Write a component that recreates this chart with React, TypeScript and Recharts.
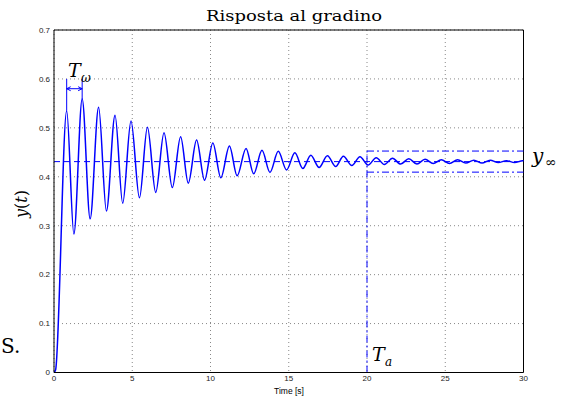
import { LineChart, Line, XAxis, YAxis, CartesianGrid, ReferenceLine } from "recharts";

// step response: start, then alternating peaks / troughs
const RESPONSE_T = [
  0, 0.1, 0.81, 1.27, 1.8, 2.31, 2.85, 3.35, 3.9, 4.39, 4.92, 5.46, 5.97, 6.5, 7.03, 7.56, 8.09,
  8.58, 9.11, 9.62, 10.15, 10.66, 11.21, 11.7, 12.27, 12.76, 13.29, 13.8, 14.33, 14.86, 15.39,
  15.9, 16.41, 16.94, 17.47, 18.0, 18.49, 19.03, 19.55, 20.07, 20.59, 21.11, 21.63, 22.15, 22.67,
  23.19, 23.71, 24.23, 24.75, 25.27, 25.79, 26.31, 26.83, 27.35, 27.87, 28.39, 28.91, 29.43,
  29.95, 30,
];
const RESPONSE_Y = [
  0, 0.005, 0.535, 0.283, 0.559, 0.314, 0.542, 0.33, 0.526, 0.346, 0.514, 0.357, 0.501, 0.368,
  0.49, 0.378, 0.482, 0.387, 0.475, 0.393, 0.469, 0.398, 0.463, 0.402, 0.458, 0.406, 0.454, 0.409,
  0.452, 0.414, 0.449, 0.417, 0.444, 0.419, 0.443, 0.421, 0.442, 0.423, 0.441, 0.424, 0.439,
  0.425, 0.438, 0.426, 0.437, 0.426, 0.436, 0.427, 0.435, 0.427, 0.435, 0.428, 0.434, 0.428,
  0.434, 0.429, 0.433, 0.429, 0.433, 0.433,
];

const X_TICKS = [0, 5, 10, 15, 20, 25, 30];
const Y_TICKS = [0, 0.1, 0.2, 0.3, 0.4, 0.5, 0.6, 0.7];

const Y_INF = 0.431;
const BAND = [0.4095, 0.4526]; // +-5%
const T_A = 20;
const T_W = [0.81, 1.8]; // first two peaks
const T_W_PEAKS = [0.535, 0.559];

const data = RESPONSE_T.map((t, i) => ({ t, y: RESPONSE_Y[i] }));

const BLUE = "#0000ff";
const SANS = "'Liberation Sans', Arial, sans-serif";
const SERIF = "'DejaVu Serif', 'Liberation Serif', serif";

const ArrowShape = (p: any) => {
  const { x1, y1, x2 } = p;
  return (
    <g stroke={BLUE} strokeWidth={1} fill="none">
      <line x1={x1} y1={y1} x2={x2} y2={y1} />
      <path d={`M${x1 + 4},${y1 - 2} L${x1},${y1} L${x1 + 4},${y1 + 2}`} />
      <path d={`M${x2 - 4},${y1 - 2} L${x2},${y1} L${x2 - 4},${y1 + 2}`} />
    </g>
  );
};

const App = () => {
  return (
    <div style={{ position: "absolute", left: 0, top: 0, width: 566, height: 401, background: "#fff" }}>
      <LineChart
        width={566}
        height={401}
        data={data}
        margin={{ top: 30, right: 42.5, left: 24, bottom: 8.5 }}
      >
        <CartesianGrid stroke="#888" strokeDasharray="1 3" />
        <XAxis
          dataKey="t"
          type="number"
          domain={[0, 30]}
          ticks={X_TICKS}
          height={20}
          tickSize={0}
          tickMargin={3}
          tickLine={false}
          axisLine={{ stroke: "#000" }}
          tick={{ fontFamily: SANS, fontSize: 8, fill: "#222" }}
        />
        <YAxis
          type="number"
          domain={[0, 0.7]}
          ticks={Y_TICKS}
          width={30}
          tickSize={0}
          tickMargin={4}
          tickLine={false}
          axisLine={{ stroke: "#000" }}
          tick={{ fontFamily: SANS, fontSize: 8, fill: "#222" }}
        />
        <ReferenceLine y={0.7} stroke="#000" />
        <ReferenceLine x={30} stroke="#000" />

        {/* steady state value */}
        <ReferenceLine y={Y_INF} stroke={BLUE} strokeDasharray="6 4" />
        {/* settling band and settling time */}
        <ReferenceLine
          segment={[{ x: T_A, y: BAND[1] }, { x: 30, y: BAND[1] }]}
          stroke={BLUE}
          strokeDasharray="7 3 2 3"
        />
        <ReferenceLine
          segment={[{ x: T_A, y: BAND[0] }, { x: 30, y: BAND[0] }]}
          stroke={BLUE}
          strokeDasharray="7 3 2 3"
        />
        <ReferenceLine
          segment={[{ x: T_A, y: 0 }, { x: T_A, y: BAND[1] }]}
          stroke={BLUE}
          strokeDasharray="7 3 2 3"
        />
        {/* oscillation period */}
        <ReferenceLine segment={[{ x: T_W[0], y: T_W_PEAKS[0] }, { x: T_W[0], y: 0.6 }]} stroke={BLUE} />
        <ReferenceLine segment={[{ x: T_W[1], y: T_W_PEAKS[1] }, { x: T_W[1], y: 0.6 }]} stroke={BLUE} />
        <ReferenceLine
          segment={[{ x: T_W[0], y: 0.58 }, { x: T_W[1], y: 0.58 }]}
          stroke={BLUE}
          shape={ArrowShape}
        />

        <Line
          type="monotone"
          dataKey="y"
          stroke={BLUE}
          strokeWidth={1.5}
          dot={false}
          isAnimationActive={false}
        />
      </LineChart>

      <svg
        width={566}
        height={401}
        style={{ position: "absolute", left: 0, top: 0, pointerEvents: "none" }}
      >
        <text
          x={294}
          y={20.5}
          textAnchor="middle"
          fontFamily={SERIF}
          fontSize={15}
          textLength={176}
          lengthAdjust="spacingAndGlyphs"
          fill="#000"
        >
          Risposta al gradino
        </text>
        <text transform="translate(27,204) rotate(-90)" textAnchor="middle" fontFamily={SERIF} fontSize={16} fill="#000">
          <tspan fontStyle="italic">y</tspan>(<tspan fontStyle="italic">t</tspan>)
        </text>
        <text x={289} y={394} textAnchor="middle" fontFamily={SANS} fontSize={8.5} fill="#000">
          Time [s]
        </text>
        <text x={532} y={163} fontFamily={SERIF} fontStyle="italic" fontSize={20} fill="#000">
          y
        </text>
        <text x={545} y={167} fontFamily={SERIF} fontSize={14} fill="#000">
          ∞
        </text>
        <text x={372} y={361} fontFamily={SERIF} fontStyle="italic" fontSize={19} fill="#000">
          T
        </text>
        <text x={385} y={366} fontFamily={SERIF} fontStyle="italic" fontSize={12} fill="#000">
          a
        </text>
        <text x={68} y={77} fontFamily={SERIF} fontStyle="italic" fontSize={19} fill="#000">
          T
        </text>
        <text x={81} y={82} fontFamily={SERIF} fontStyle="italic" fontSize={12} fill="#000">
          ω
        </text>
        <text x={1} y={353} fontFamily={SERIF} fontSize={20} fill="#000">
          S.
        </text>
      </svg>
    </div>
  );
};

export default App;
